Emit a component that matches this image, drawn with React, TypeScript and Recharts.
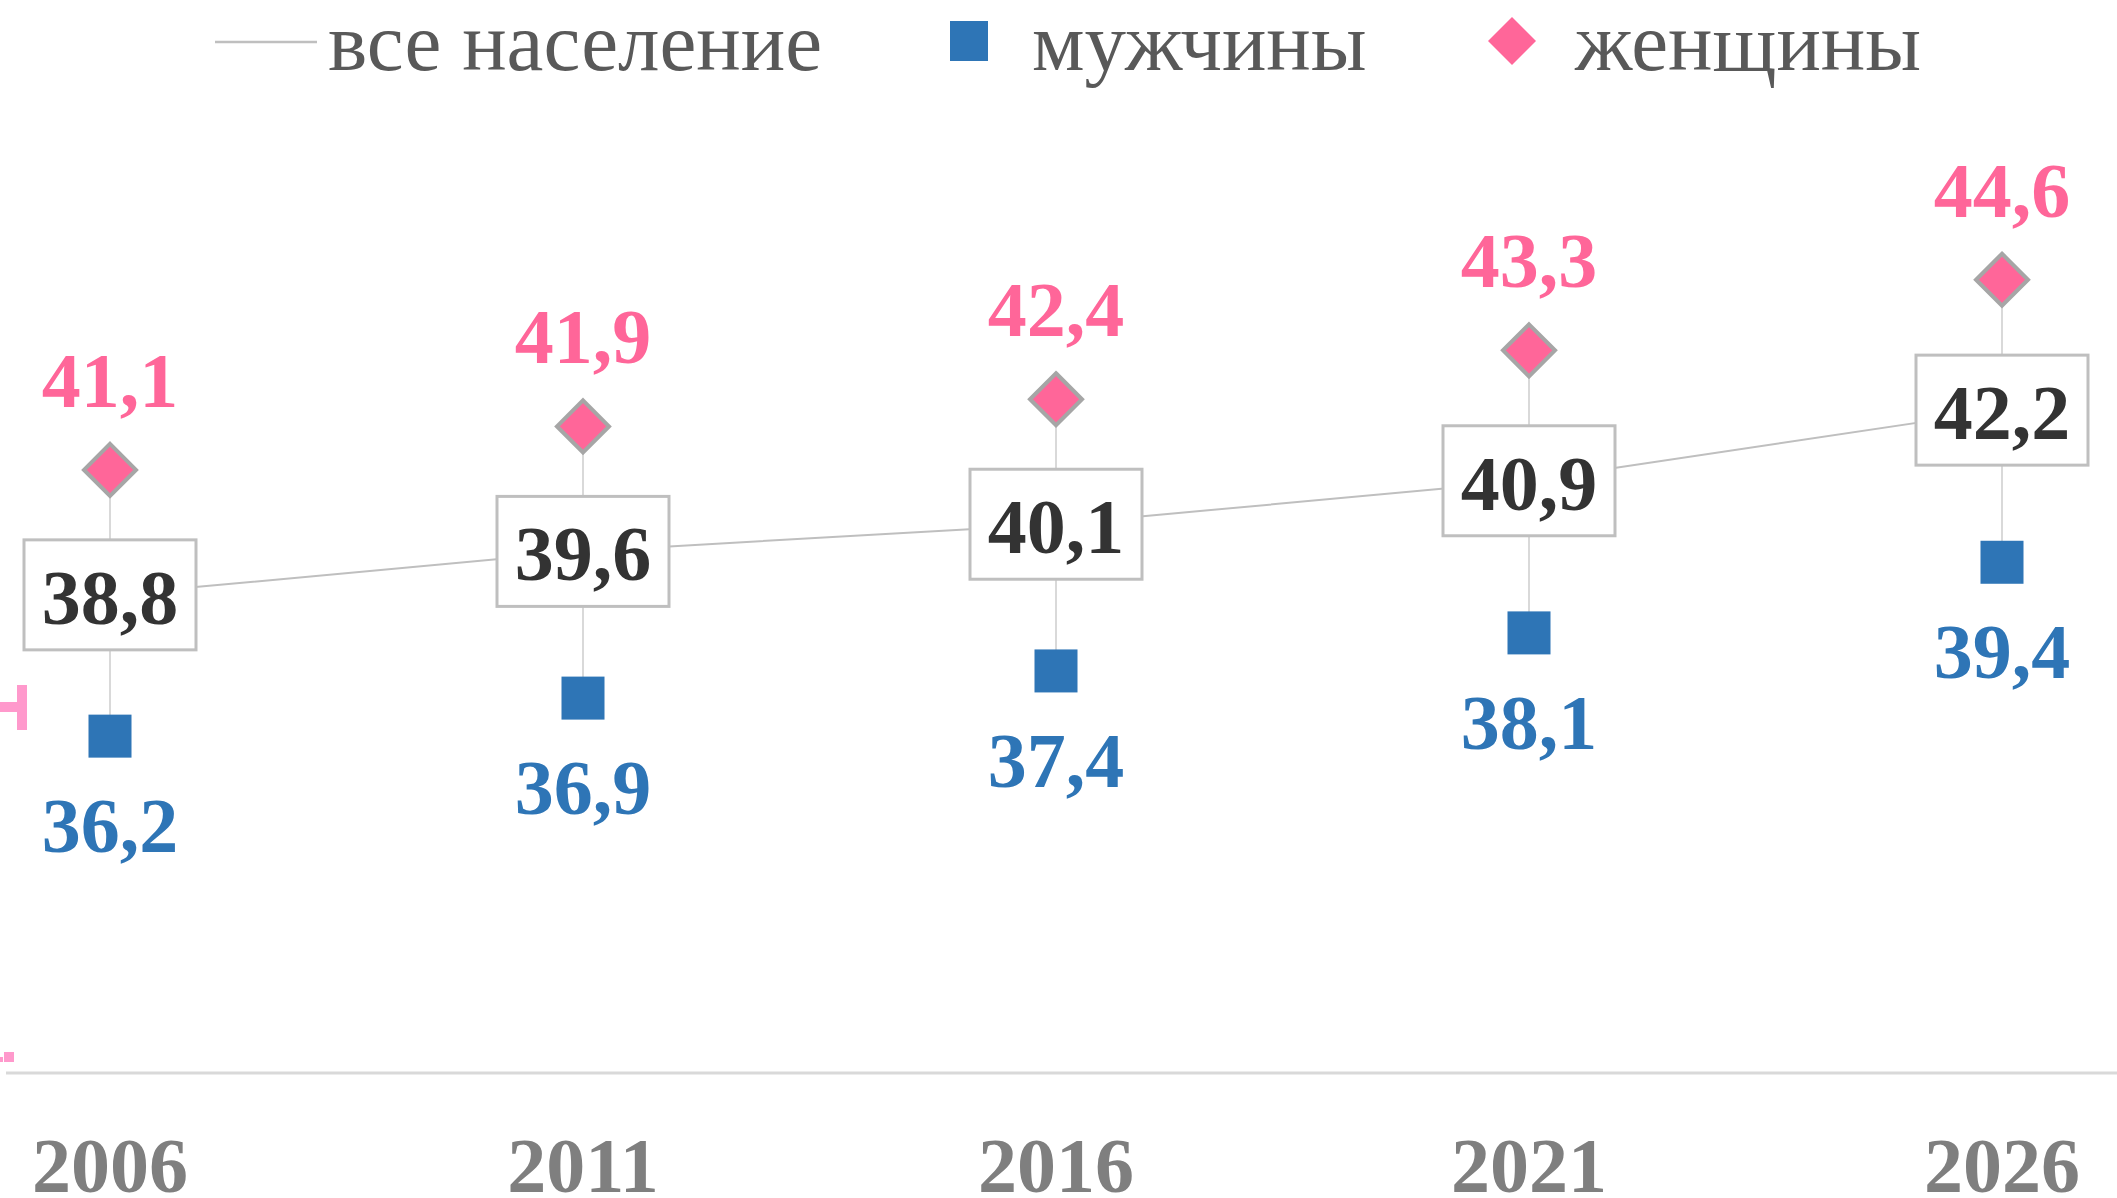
import React from 'react';
import { LineChart, Line, XAxis, YAxis, ErrorBar, LabelList } from 'recharts';

const years = ['2006', '2011', '2016', '2021', '2026'];
const total = [38.8, 39.6, 40.1, 40.9, 42.2];
const men = [36.2, 36.9, 37.4, 38.1, 39.4];
const women = [41.1, 41.9, 42.4, 43.3, 44.6];
const legendLabels = ['все население', 'мужчины', 'женщины'];

const data = years.map((y, i) => ({
  year: y,
  total: total[i],
  men: men[i],
  women: women[i],
  err: [total[i] - men[i], women[i] - total[i]],
}));

const FONT = '"Liberation Serif", "Times New Roman", serif';
const PINK = '#ff6699';
const BLUE = '#2e75b6';
const fmt = (v: number) => v.toFixed(1).replace('.', ',');

const Diamond = (p: any) => {
  const { cx, cy, index } = p;
  const r = 26;
  return (
    <polygon
      key={'d' + index}
      points={`${cx},${cy - r} ${cx + r},${cy} ${cx},${cy + r} ${cx - r},${cy}`}
      fill={PINK}
      stroke="#a6a6a6"
      strokeWidth={4}
    />
  );
};

const Square = (p: any) => {
  const { cx, cy, index } = p;
  const s = 43;
  return <rect key={'s' + index} x={cx - s / 2} y={cy - s / 2} width={s} height={s} fill={BLUE} />;
};

const WomenLabel = (p: any) => (
  <text x={p.x} y={p.y - 63} textAnchor="middle" fill={PINK} fontFamily={FONT} fontWeight="bold" fontSize={78}>
    {fmt(p.value)}
  </text>
);

const MenLabel = (p: any) => (
  <text x={p.x} y={p.y + 116} textAnchor="middle" fill={BLUE} fontFamily={FONT} fontWeight="bold" fontSize={78}>
    {fmt(p.value)}
  </text>
);

const BoxLabel = (p: any) => {
  const w = 172;
  const h = 110;
  return (
    <g>
      <rect x={p.x - w / 2} y={p.y - h / 2} width={w} height={h} fill="#fff" stroke="#bfbfbf" strokeWidth={3} />
      <text x={p.x} y={p.y + 29} textAnchor="middle" fill="#333333" fontFamily={FONT} fontWeight="bold" fontSize={78}>
        {fmt(p.value)}
      </text>
    </g>
  );
};

const YearTick = (p: any) => (
  <text x={p.x} y={p.y + 119} textAnchor="middle" fill="#7f7f7f" fontFamily={FONT} fontWeight="bold" fontSize={78}>
    {p.payload.value}
  </text>
);

const Overlay = () => (
  <svg width={2117} height={120} style={{ position: 'absolute', left: 0, top: 0, pointerEvents: 'none' }}>
    <g fontFamily={FONT} fontSize={83} fill="#595959">
      <line x1={215} y1={42} x2={317} y2={42} stroke="#bfbfbf" strokeWidth={2.5} />
      <text x={328} y={70}>{legendLabels[0]}</text>
      <rect x={950} y={21} width={38} height={40} fill={BLUE} />
      <text x={1032} y={70}>{legendLabels[1]}</text>
      <polygon points="1512,17 1536,41 1512,65 1488,41" fill={PINK} />
      <text x={1575} y={70}>{legendLabels[2]}</text>
    </g>
  </svg>
);

const EdgeBits = () => (
  <svg width={40} height={1198} style={{ position: 'absolute', left: 0, top: 0, pointerEvents: 'none' }}>
    <rect x={0} y={702} width={27} height={10} fill="#ff99cc" />
    <rect x={17} y={685} width={10} height={45} fill="#ff99cc" />
    <rect x={4} y={1052} width={10} height={10} fill="#ff99cc" />
    <rect x={0} y={1057} width={3} height={5} fill="#ff99cc" />
  </svg>
);

export default function App() {
  return (
    <div style={{ position: 'absolute', left: 0, top: 0, width: 2117, height: 1198, background: '#fff' }}>
      <LineChart width={2117} height={1198} data={data} margin={{ top: 95, right: 0, bottom: 0, left: 6 }}>
        <XAxis
          dataKey="year"
          axisLine={{ stroke: '#d9d9d9', strokeWidth: 3 }}
          tickLine={false}
          tickSize={0}
          tickMargin={0}
          height={125}
          padding={{ left: 104, right: 115 }}
          tick={<YearTick />}
          interval={0}
        />
        <YAxis hide domain={[30, 48]} />
        <Line dataKey="total" stroke="none" dot={false} activeDot={false} isAnimationActive={false} legendType="none">
          <ErrorBar dataKey="err" width={0} stroke="#d9d9d9" strokeWidth={2} direction="y" />
        </Line>
        <Line dataKey="women" stroke="none" dot={<Diamond />} activeDot={false} isAnimationActive={false}>
          <LabelList dataKey="women" content={<WomenLabel />} />
        </Line>
        <Line dataKey="men" stroke="none" dot={<Square />} activeDot={false} isAnimationActive={false}>
          <LabelList dataKey="men" content={<MenLabel />} />
        </Line>
        <Line dataKey="total" stroke="#bfbfbf" strokeWidth={2} dot={false} activeDot={false} isAnimationActive={false}>
          <LabelList dataKey="total" content={<BoxLabel />} />
        </Line>
      </LineChart>
      <Overlay />
      <EdgeBits />
    </div>
  );
}
